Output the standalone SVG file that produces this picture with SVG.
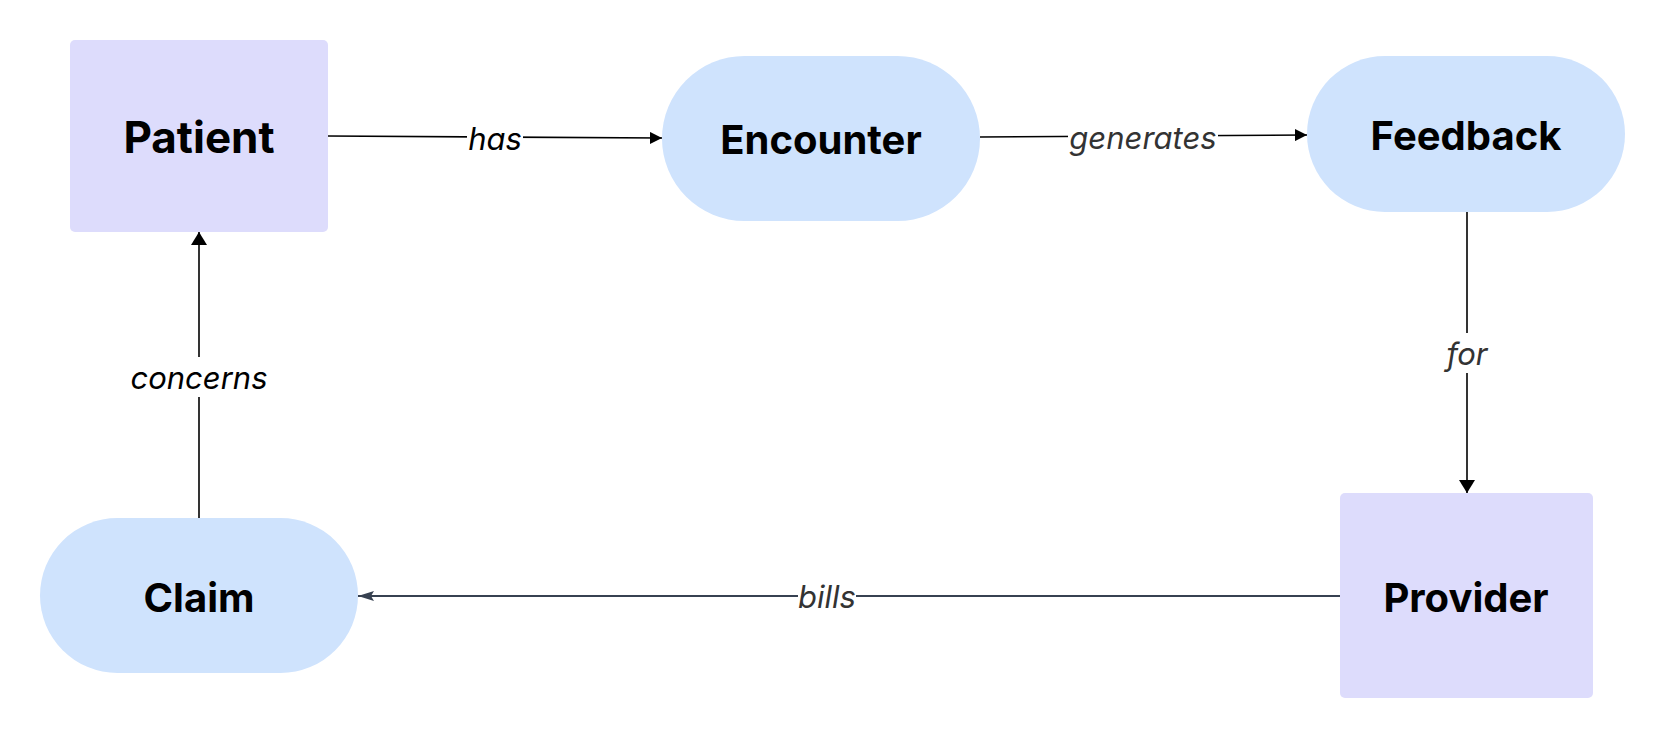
<svg xmlns="http://www.w3.org/2000/svg" width="1665" height="739" viewBox="0 0 1665 739">
<style>
.rect{fill:#dddcfc}
.pill{fill:#cfe3fd}
.nl{font-family:Inter,"Liberation Sans",sans-serif;font-weight:700;font-size:40px;fill:#000;text-anchor:middle;dominant-baseline:central}
.el{font-family:Inter,"Liberation Sans",sans-serif;font-style:italic;font-size:31px;text-anchor:middle;dominant-baseline:central}
.ln{fill:none;stroke:#000;stroke-width:1.6}
.bg{fill:#fff}
</style>
<defs>
<marker id="ah" viewBox="0 0 12 12" refX="12" refY="6" markerWidth="12" markerHeight="12" markerUnits="userSpaceOnUse" orient="auto"><path d="M0,0 L12,6 L0,12 Z" fill="#000"/></marker>
<marker id="ahv" viewBox="0 0 13 16" refX="13" refY="8" markerWidth="13" markerHeight="16" markerUnits="userSpaceOnUse" orient="auto"><path d="M0,0 L13,8 L0,16 Z" fill="#000"/></marker>
<marker id="ahg" viewBox="0 0 16 10" refX="16" refY="5" markerWidth="16" markerHeight="10" markerUnits="userSpaceOnUse" orient="auto"><path d="M0,0 L16,5 L0,10 L3,5 Z" fill="#374151"/></marker>
</defs>
<g id="connectors">
<path class="ln" d="M328,136 L662,138" marker-end="url(#ah)"/>
<rect class="bg" x="467" y="121" width="56" height="34"/>
<text class="el" x="495" y="138" fill="#000">has</text>
<path class="ln" d="M980,137 L1307,135" marker-end="url(#ah)"/>
<rect class="bg" x="1068" y="120" width="150" height="34"/>
<text class="el" x="1143" y="137" fill="#333">generates</text>
<path class="ln" d="M1467,212 L1467,493" stroke-width="2" marker-end="url(#ahv)"/>
<rect class="bg" x="1443" y="333" width="48" height="40"/>
<text class="el" x="1467" y="353" fill="#333">for</text>
<path d="M1340,596 L358,596" fill="none" stroke="#374151" stroke-width="2" marker-end="url(#ahg)"/>
<rect class="bg" x="798" y="579" width="58" height="34"/>
<text class="el" x="827" y="596" fill="#333">bills</text>
<path class="ln" d="M199,518 L199,232" stroke-width="2" marker-end="url(#ahv)"/>
<rect class="bg" x="126" y="357" width="146" height="40"/>
<text class="el" x="199" y="377" fill="#000">concerns</text>
</g>
<g id="patient">
<rect class="rect" x="70" y="40" width="258" height="192" rx="5"/>
<text class="nl" x="199" y="137" style="font-size:44px">Patient</text>
</g>
<g id="encounter">
<rect class="pill" x="662" y="56" width="318" height="165" rx="82.5"/>
<text class="nl" x="821" y="139">Encounter</text>
</g>
<g id="feedback">
<rect class="pill" x="1307" y="56" width="318" height="156" rx="78"/>
<text class="nl" x="1466" y="135">Feedback</text>
</g>
<g id="claim">
<rect class="pill" x="40" y="518" width="318" height="155" rx="77.5"/>
<text class="nl" x="199" y="597">Claim</text>
</g>
<g id="provider">
<rect class="rect" x="1340" y="493" width="253" height="205" rx="5"/>
<text class="nl" x="1466" y="597">Provider</text>
</g>
</svg>
